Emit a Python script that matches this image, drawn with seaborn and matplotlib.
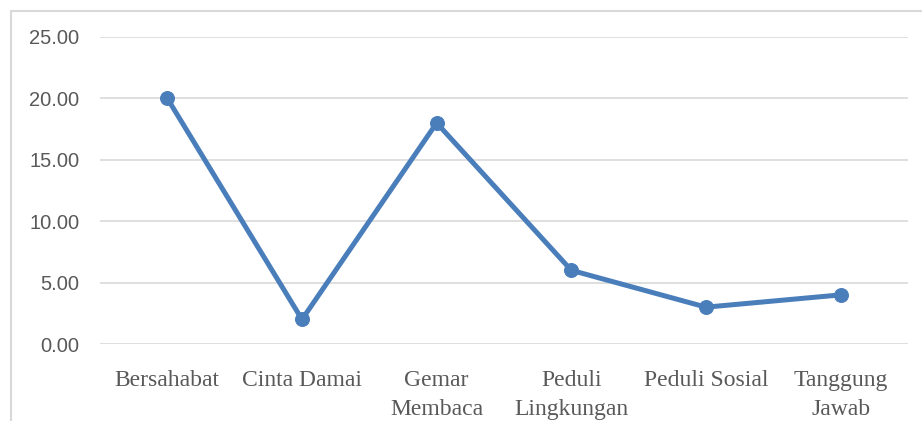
import matplotlib
matplotlib.use("Agg")
import matplotlib.pyplot as plt
from matplotlib.lines import Line2D
import seaborn as sns
import pandas as pd

categories = ["Bersahabat", "Cinta Damai", "Gemar\nMembaca", "Peduli\nLingkungan", "Peduli Sosial", "Tanggung\nJawab"]
values = [20, 2, 18, 6, 3, 4]
y_ticks = [0, 5, 10, 15, 20, 25]

df = pd.DataFrame({"kategori": categories, "nilai": values})

sns.set_theme(style="white")
plt.rcParams["font.family"] = ["DejaVu Sans"]

fig = plt.figure(figsize=(9.22, 4.21), dpi=100)
ax = fig.add_axes([100/922, 1 - 344/421, 808/922, 307/421])

line_color = "#4a7ebb"
sns.lineplot(data=df, x="kategori", y="nilai", ax=ax, sort=False, color=line_color,
             linewidth=3.6, marker="o", markersize=10, markeredgecolor=line_color,
             markerfacecolor=line_color)

ax.set_xlim(-0.5, len(categories) - 0.5)
ax.set_ylim(0, 25)
ax.set_yticks(y_ticks)
ax.set_yticklabels([f"{v:.2f}" for v in y_ticks], fontfamily="Liberation Sans", fontsize=14.5, color="#595959")
ax.set_xticks(range(len(categories)))
ax.set_xticklabels(categories, fontfamily="Liberation Serif", fontsize=17, color="#595959", linespacing=1.45)
ax.tick_params(axis="y", length=0, pad=15)
ax.tick_params(axis="x", length=0, pad=19)
ax.set_xlabel("")
ax.set_ylabel("")
for s in ax.spines.values():
    s.set_visible(False)
ax.grid(axis="y", color="#d9d9d9", linewidth=1.2)
ax.set_axisbelow(True)

# outer chart-area border (top and left visible)
fig.add_artist(Line2D([10.5/922, 10.5/922], [0, 1 - 10.5/421], transform=fig.transFigure, color="#d9d9d9", linewidth=1.5))
fig.add_artist(Line2D([10.5/922, 1], [1 - 10.5/421, 1 - 10.5/421], transform=fig.transFigure, color="#d9d9d9", linewidth=1.5))

fig.savefig("out.png", dpi=100, facecolor="white")
